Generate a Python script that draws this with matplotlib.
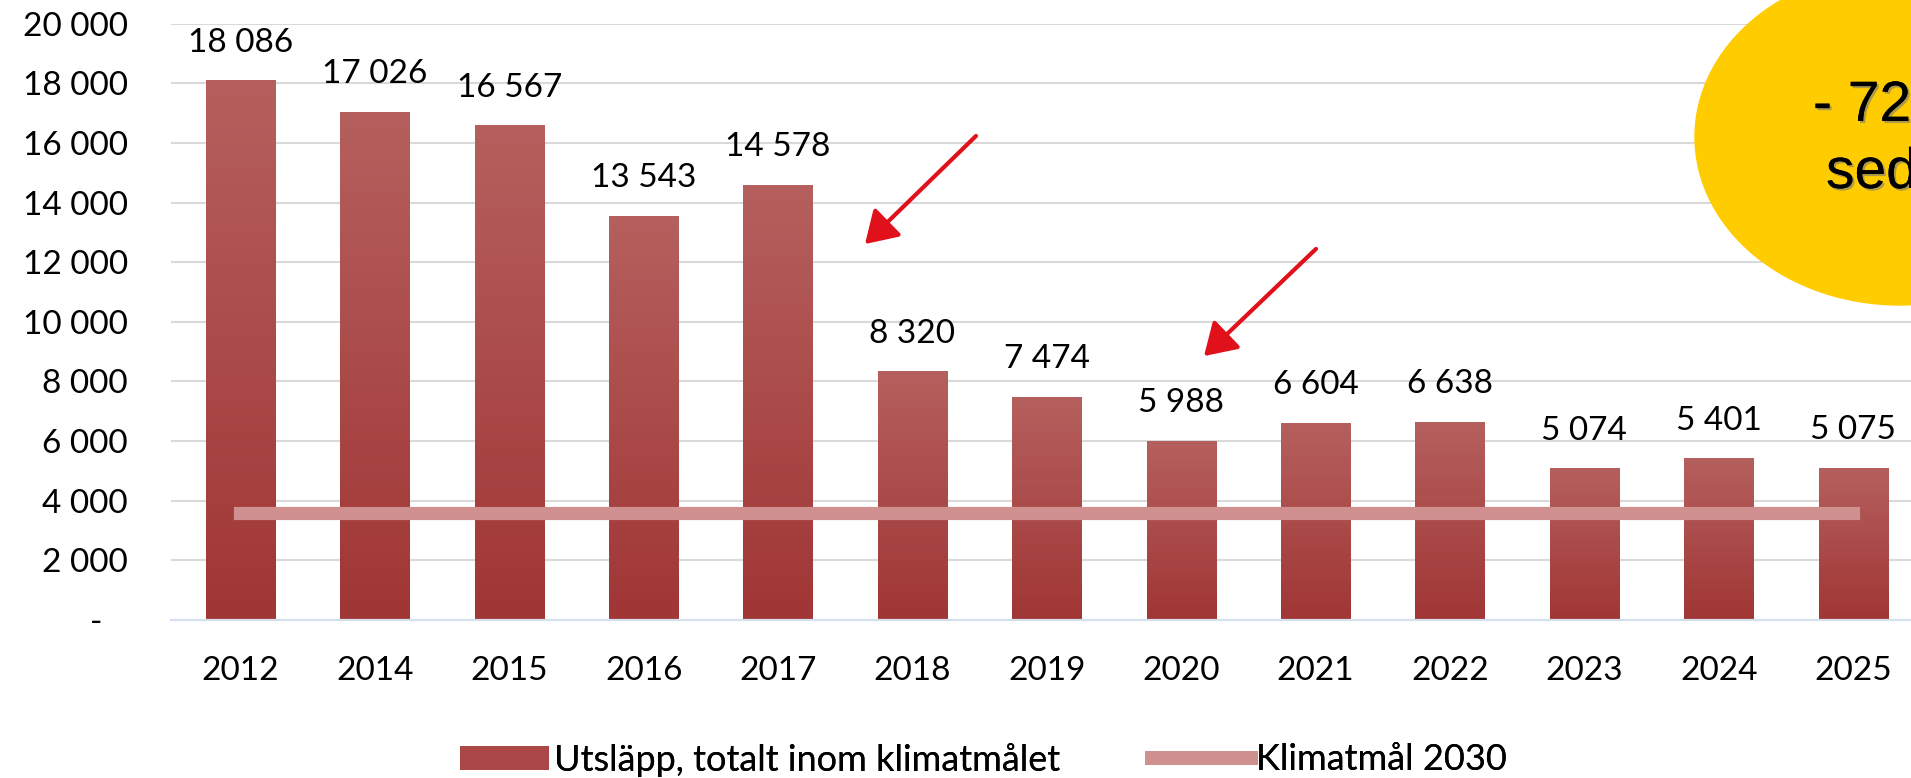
import numpy as np
import matplotlib as mpl
mpl.use('Agg')
import matplotlib.pyplot as plt
from matplotlib.patches import Ellipse, Patch
from matplotlib.lines import Line2D
import matplotlib.patheffects as pe

years = ['2012', '2014', '2015', '2016', '2017', '2018', '2019',
         '2020', '2021', '2022', '2023', '2024', '2025']
utslapp = [18086, 17026, 16567, 13543, 14578, 8320, 7474,
           5988, 6604, 6638, 5074, 5401, 5075]
klimatmal = [3600] * len(years)
yticks = [0, 2000, 4000, 6000, 8000, 10000, 12000, 14000, 16000, 18000, 20000]
legend_labels = ['Utsläpp, totalt inom klimatmålet', 'Klimatmål 2030']

plt.rcParams['font.family'] = ['Lato', 'DejaVu Sans']

fig = plt.figure(figsize=(19.11, 7.78), dpi=100)
ax = fig.add_axes([171 / 1911, 158 / 778, 1 - 171 / 1911, 596.4 / 778])

x = np.arange(len(years))
w = 0.515

# bars with a vertical gradient (light top -> dark bottom)
top_c = np.array([181, 96, 94]) / 255
bot_c = np.array([160, 54, 53]) / 255
grad = np.linspace(0, 1, 256)[:, None]
img = bot_c[None, None, :] * (1 - grad[..., None]) + top_c[None, None, :] * grad[..., None]
for xi, v in zip(x, utslapp):
    ax.imshow(img, extent=[xi - w / 2, xi + w / 2, 0, v], origin='lower',
              aspect='auto', zorder=2, interpolation='bilinear')
    ax.annotate(f'{v:,}'.replace(',', ' '), (xi, v), xytext=(0, 21),
                textcoords='offset points', ha='center', va='baseline',
                fontsize=24, color='black')

ax.plot(x, klimatmal, color='#D09090', lw=9.5, solid_capstyle='projecting', zorder=3)

ax.set_xlim(-0.517, 12.43)
ax.set_ylim(0, 20000)
ax.set_yticks(yticks)
ax.set_yticklabels([f'{t:,}'.replace(',', ' ') if t else '-   ' for t in yticks])
ax.set_xticks(x)
ax.set_xticklabels(years)
ax.tick_params(axis='both', length=0, labelsize=24)
ax.tick_params(axis='y', pad=31)
ax.tick_params(axis='x', pad=26)
for t in yticks[1:]:
    ax.axhline(t, color='#D9D9D9', lw=1.5, zorder=1)
for s in ['top', 'right', 'left']:
    ax.spines[s].set_visible(False)
ax.spines['bottom'].set_color('#D6DFEC')
ax.spines['bottom'].set_linewidth(1.6)

# red arrows
for (x0, y0), (x1, y1) in [((978, 134), (863, 246)), ((1318, 247), (1202, 358))]:
    fig.add_artist(mpl.patches.FancyArrowPatch(
        (x0 / 1911, 1 - y0 / 778), (x1 / 1911, 1 - y1 / 778),
        transform=fig.transFigure, arrowstyle='-|>,head_length=8,head_width=5',
        color='#E0111B', lw=3, mutation_scale=2.4))

# yellow ellipse callout (cut by the right edge like the original)
fig.add_artist(Ellipse((1900 / 1911, 1 - 137 / 778), 2 * 205 / 1911, 2 * 168 / 778,
                       transform=fig.transFigure, color='#FFCC00', zorder=5))
shadow = [pe.withSimplePatchShadow(offset=(1.5, -1.5), shadow_rgbFace='#777777', alpha=0.6), pe.Normal()]
fig.text(1813 / 1911, 1 - 121 / 778, '- 72 %', fontsize=41, family=['Liberation Sans', 'DejaVu Sans'],
         va='baseline', ha='left', zorder=6, path_effects=shadow)
fig.text(1826 / 1911, 1 - 188 / 778, 'sedan 2012', fontsize=41, family=['Liberation Sans', 'DejaVu Sans'],
         va='baseline', ha='left', zorder=6, path_effects=shadow)

# legend: two single-entry legends so each sits where it does in the original
handles = [Patch(facecolor='#AB4746', edgecolor='none'),
           Line2D([0], [0], color='#D09090', lw=10)]
leg_size = 26
px = leg_size / 0.72
for h, lab, x_left, hl in zip(handles, legend_labels, [460, 1152], [89, 99]):
    leg = fig.legend([h], [lab], loc='center left',
                     bbox_to_anchor=(x_left / 1911, 1 - 760 / 778), frameon=False,
                     prop={'size': leg_size}, handlelength=hl / px, handleheight=23 / px,
                     handletextpad=5 / px, borderpad=0, borderaxespad=0)
    fig.add_artist(leg)

fig.savefig('out.png', dpi=100)
